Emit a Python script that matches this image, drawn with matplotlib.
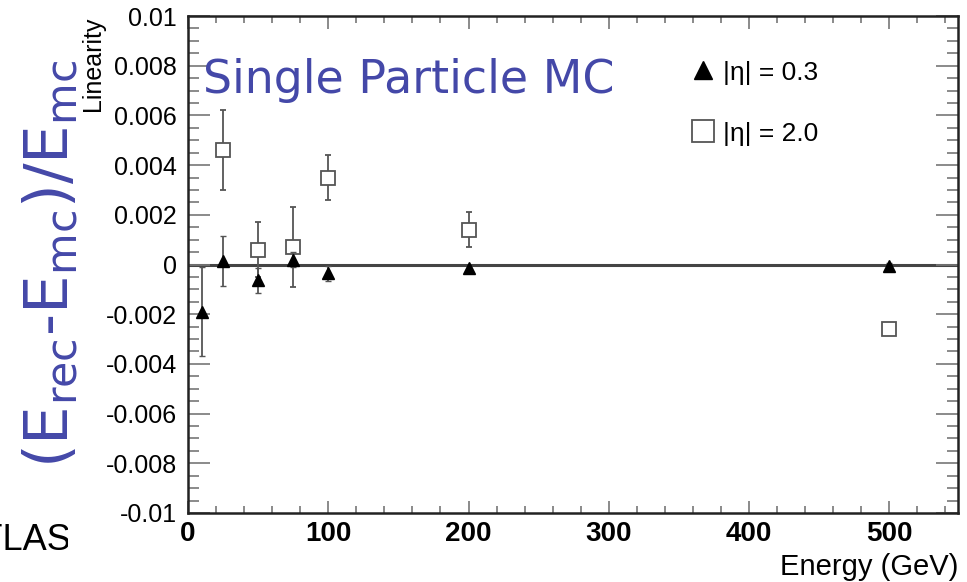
import numpy as np
import matplotlib.pyplot as plt
from matplotlib.ticker import MultipleLocator
from matplotlib.transforms import Bbox, TransformedBbox

# |eta| = 0.3 (filled triangles)
energy_03 = [10, 25, 50, 75, 100, 200, 500]
lin_03 = [-0.0019, 0.00013, -0.00064, 0.0002, -0.00036, -0.00016, -0.00005]
err_03 = [0.0018, 0.001, 0.0005, 0.0003, 0.0003, 0.0001, 0.0001]

# |eta| = 2.0 (open squares)
energy_20 = [25, 50, 75, 100, 200, 500]
lin_20 = [0.0046, 0.0006, 0.0007, 0.0035, 0.0014, -0.0026]
err_20 = [0.0016, 0.0011, 0.0016, 0.0009, 0.0007, 0.0]

yticks = [0.01, 0.008, 0.006, 0.004, 0.002, 0, -0.002, -0.004, -0.006, -0.008, -0.01]
ylabels = ['0.01', '0.008', '0.006', '0.004', '0.002', '0', '-0.002', '-0.004',
           '-0.006', '-0.008', '-0.01']
xticks = [0, 100, 200, 300, 400, 500]

plt.rcParams['font.family'] = ['Liberation Sans', 'DejaVu Sans']
blue = '#4448a8'
grey = '#555555'

fig = plt.figure(figsize=(9.67, 5.82), dpi=100)
ax = fig.add_axes([188/967, 1 - 513/582, 770/967, 497/582])

ax.axhline(0, color='#444444', lw=2.2, zorder=1)
sq = ax.errorbar(energy_20, lin_20, yerr=err_20, fmt='s', ms=10.5, mfc='white',
                 mec=grey, mew=1.3, ecolor=grey, elinewidth=1.3, capsize=2.5,
                 zorder=3)
tri = ax.errorbar(energy_03, lin_03, yerr=err_03, fmt='^', ms=9, color='black',
                  ecolor=grey, elinewidth=1.3, capsize=2.5, zorder=4)

ax.set_xlim(0, 549)
ax.set_ylim(-0.01, 0.01)
ax.set_yticks(yticks)
ax.set_yticklabels(ylabels, fontsize=18)
ax.set_xticks(xticks)
ax.set_xticklabels([str(v) for v in xticks], fontsize=20, fontweight='bold')
ax.xaxis.set_minor_locator(MultipleLocator(20))
ax.yaxis.set_minor_locator(MultipleLocator(0.0005))
ax.tick_params(axis='y', which='major', direction='in', length=16, width=1.2,
               color='#777777', right=True, pad=8)
ax.tick_params(axis='y', which='minor', direction='in', length=8, width=1.2,
               color='#777777', right=True)
ax.tick_params(axis='x', which='major', direction='in', length=9, width=1.2,
               color='#777777', top=True, pad=6)
ax.tick_params(axis='x', which='minor', direction='in', length=5, width=1.2,
               color='#777777', top=True)
for s in ax.spines.values():
    s.set_linewidth(1.8)
    s.set_color('#222222')

ax.legend([tri[0], sq[0]], ['|η| = 0.3', '|η| = 2.0'], loc='upper left',
          bbox_to_anchor=(0.628, 0.958), frameon=False, fontsize=19,
          handlelength=0.6, handletextpad=0.45, labelspacing=1.4,
          markerscale=1.45)

ax.text(0.02, 1 - 93/497 + 16/497, 'Single Particle MC', transform=ax.transAxes,
        color=blue, fontsize=33, family='DejaVu Sans', va='baseline')
fig.text(958/967, 0.002, 'Energy (GeV)', ha='right', va='bottom', fontsize=21)
fig.text(93/967, 1 - 17/582, 'Linearity', rotation=90, ha='center', va='top',
         fontsize=18)
fig.text(52/967, 1 - 264/582,
         '(E$_\\mathregular{rec}$-E$_\\mathregular{mc}$)/E$_\\mathregular{mc}$',
         rotation=90, ha='center', va='center', color=blue, fontsize=44,
         family='DejaVu Sans')

t = fig.text(72/967, 1 - 540/582, 'ATLAS', ha='right', va='center', fontsize=26)
t.set_clip_box(TransformedBbox(Bbox([[0, 0], [68/967, 1]]), fig.transFigure))
t.set_clip_on(True)

fig.savefig('out.png', dpi=100)
